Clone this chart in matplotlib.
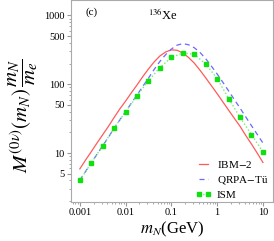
import numpy as np
import matplotlib
matplotlib.use("Agg")
import matplotlib.pyplot as plt

plt.rcParams["font.family"] = ["Liberation Serif", "DejaVu Serif"]
plt.rcParams["mathtext.fontset"] = "stix"

# masses (GeV), eighth decades, for the two solid/dashed curves
m_line = [0.001, 0.00133, 0.00178, 0.00237, 0.00316, 0.00422, 0.00562, 0.0075,
          0.01, 0.0133, 0.0178, 0.0237, 0.0316, 0.0422, 0.0562, 0.075,
          0.1, 0.133, 0.178, 0.237, 0.316, 0.422, 0.562, 0.75,
          1.0, 1.33, 1.78, 2.37, 3.16, 4.22, 5.62, 7.5, 10.0]

# values
ibm2 = [5.9, 7.9, 10.5, 14, 18.5, 24.5, 33, 44,
        57, 75, 98, 129, 167, 212, 258, 295,
        316, 312, 285, 245, 203, 160, 124, 95,
        73, 55.5, 42, 32, 24.5, 18, 13.5, 10, 7.3]
qrpa = [4.05, 5.4, 7.2, 9.6, 12.8, 17, 23, 30.5,
        40, 53, 70, 93, 123, 165, 215, 270,
        325, 370, 390, 375, 340, 290, 235, 183,
        141, 107, 80, 60, 45, 33.5, 25, 18.7, 14]

# ISM points (quarter decades)
m_ism = [0.001, 0.00178, 0.00316, 0.00562, 0.01, 0.0178, 0.0316, 0.0562,
         0.1, 0.178, 0.316, 0.562, 1.0, 1.78, 3.16, 5.62, 10.0]
ism = [4.0, 7.2, 12.8, 23, 40, 68, 113, 175,
       245, 285, 272, 197, 121, 62, 33, 18.5, 10.4]

x_ticks = [0.001, 0.01, 0.1, 1, 10]
x_tick_labels = ["0.001", "0.01", "0.1", "1", "10"]
y_ticks = [5, 10, 50, 100, 500, 1000]
y_tick_labels = ["5", "10", "50", "100", "500", "1000"]

fig = plt.figure(figsize=(2.74, 2.41), dpi=100)
ax = fig.add_axes([0.259, 0.162, 0.737, 0.836])

ax.plot(m_line, ibm2, color="#ff5a5a", lw=0.9, label="IBM$-$2")
ax.plot(m_line, qrpa, color="#6a6aff", lw=0.9, ls=(0, (4, 3)), label="QRPA$-$Tü")
ax.plot(m_ism, ism, color="#70f070", lw=1.0, ls=(0, (1, 1.6)),
        marker="s", ms=2.4, mfc="#10e010", mec="#10e010", label="ISM")

ax.set_xscale("log")
ax.set_yscale("log")
ax.set_xlim(0.00064, 16.5)
ax.set_ylim(1.95, 1650)

ax.set_xticks(x_ticks)
ax.set_xticklabels(x_tick_labels)
ax.set_yticks(y_ticks)
ax.set_yticklabels(y_tick_labels)
ax.tick_params(which="both", labelsize=7.5, color="#999999", direction="out",
               top=False, right=False)
ax.tick_params(which="major", length=3, pad=1.5)
ax.tick_params(which="minor", length=1.5)
for s in ax.spines.values():
    s.set_color("#aaaaaa")
    s.set_linewidth(0.8)

ax.set_xlabel("$m_N$(GeV)", fontsize=12, labelpad=2)
ax.set_ylabel(r"$M^{(0\nu)}(m_N)\,\dfrac{m_N}{m_e}$", fontsize=15)
ax.yaxis.set_label_coords(-0.155, 0.43)

ax.text(0.07, 0.965, "(c)", transform=ax.transAxes, fontsize=8, va="top")
ax.text(0.38, 0.965, "$^{136}$Xe", transform=ax.transAxes, fontsize=9, va="top")

ax.legend(loc="lower right", bbox_to_anchor=(1.01, -0.025), frameon=False,
          fontsize=8, handlelength=1.4, handletextpad=0.5, numpoints=2,
          labelspacing=0.4, borderaxespad=0.2)

fig.savefig("out.png", dpi=100)
